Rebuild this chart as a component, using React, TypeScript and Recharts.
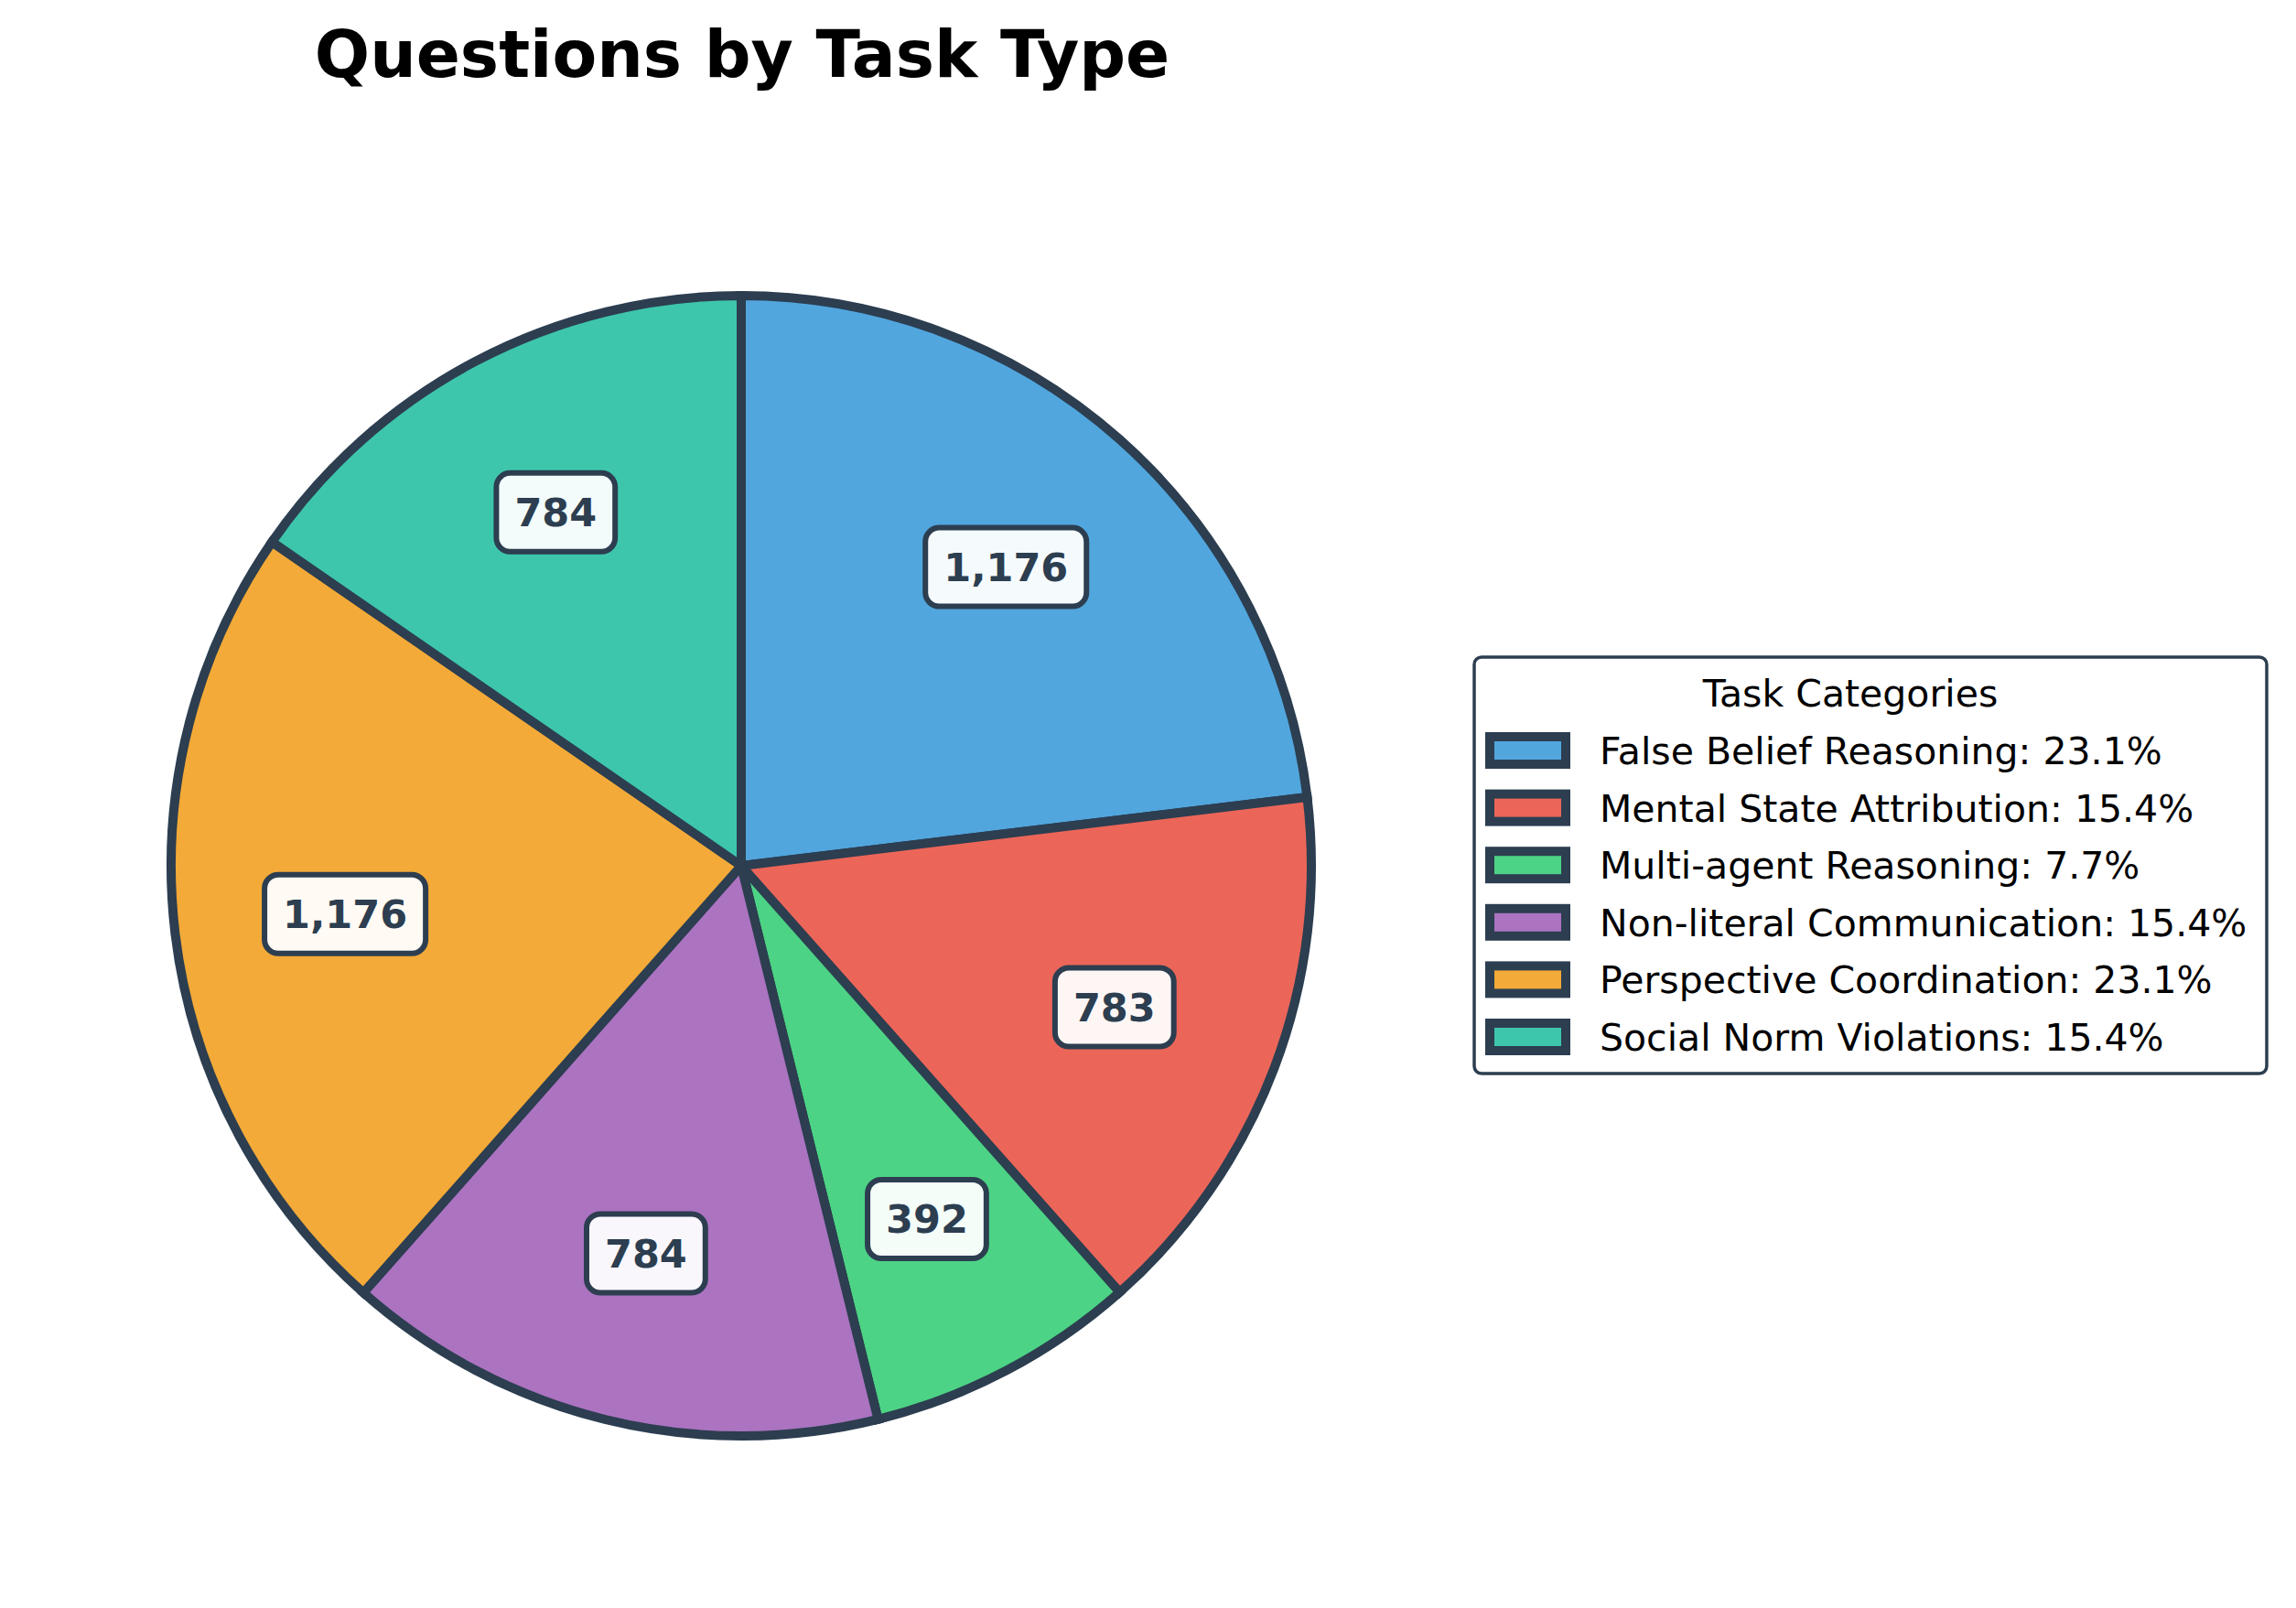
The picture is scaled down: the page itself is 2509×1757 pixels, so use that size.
import React from 'react';
import { PieChart, Pie, Cell, Legend } from 'recharts';

const categories = [
  'False Belief Reasoning',
  'Mental State Attribution',
  'Multi-agent Reasoning',
  'Non-literal Communication',
  'Perspective Coordination',
  'Social Norm Violations',
];
const counts = [1176, 783, 392, 784, 1176, 784];
const colors = ['#52a6de', '#eb6659', '#4dd385', '#ab73c0', '#f3aa38', '#3ec6ad'];

const total = counts.reduce((a, b) => a + b, 0);
const data = categories.map((name, i) => ({ name, value: counts[i] }));

const DARK = '#2c3e50';
const FONT = '"DejaVu Sans", sans-serif';
const RAD = Math.PI / 180;

const renderLabel = (props: any) => {
  const { cx, cy, midAngle, outerRadius, value } = props;
  const r = outerRadius * 0.7;
  const x = cx + r * Math.cos(-midAngle * RAD);
  const y = cy + r * Math.sin(-midAngle * RAD);
  const text = value.toLocaleString('en-US');
  const fs = 43;
  // rough advance width for DejaVu Sans Bold digits / comma
  const tw = text.split('').reduce((w: number, c: string) => w + (c === ',' ? 0.38 : 0.696) * fs, 0);
  const bw = tw + 40;
  const bh = 86;
  return (
    <g>
      <rect x={x - bw / 2} y={y - bh / 2} width={bw} height={bh} rx={15} fill="#ffffff" fillOpacity={0.94} stroke={DARK} strokeWidth={6} />
      <text x={x} y={y + fs * 0.36} textAnchor="middle" fontFamily={FONT} fontWeight="bold" fontSize={fs} fill={DARK}>
        {text}
      </text>
    </g>
  );
};

const LegendBox = () => {
  const rowTop = 125;
  const rowGap = 62.6;
  return (
    <svg width={885} height={470} style={{ display: 'block' }}>
      <rect x={11} y={8} width={866} height={455} rx={8} fill="#ffffff" stroke={DARK} strokeWidth={3.5} />
      <text x={422} y={62} textAnchor="middle" fontFamily={FONT} fontSize={41} fill="#000">
        Task Categories
      </text>
      {categories.map((name, i) => {
        const base = rowTop + i * rowGap;
        const pct = ((counts[i] / total) * 100).toFixed(1);
        return (
          <g key={name}>
            <rect x={28} y={base - 30} width={83} height={30} fill={colors[i]} stroke={DARK} strokeWidth={10} />
            <text x={148} y={base} fontFamily={FONT} fontSize={41} fill="#000">
              {`${name}: ${pct}%`}
            </text>
          </g>
        );
      })}
    </svg>
  );
};

export default function App() {
  return (
    <div style={{ position: 'absolute', left: 0, top: 0, width: 2509, height: 1757, background: '#fff' }}>
      <svg width={2509} height={130} style={{ position: 'absolute', left: 0, top: 0 }}>
        <text x={811} y={84} textAnchor="middle" fontFamily={FONT} fontWeight="bold" fontSize={71} fill="#000">
          Questions by Task Type
        </text>
      </svg>
      <PieChart width={2509} height={1757} margin={{ top: 0, right: 0, bottom: 0, left: 0 }}>
        <Pie
          data={data}
          dataKey="value"
          nameKey="name"
          cx={810}
          cy={946}
          outerRadius={623}
          startAngle={90}
          endAngle={-270}
          stroke={DARK}
          strokeWidth={10}
          label={renderLabel}
          labelLine={false}
          isAnimationActive={false}
        >
          {data.map((entry, i) => (
            <Cell key={entry.name} fill={colors[i]} />
          ))}
        </Pie>
        <Legend
          content={() => <LegendBox />}
          wrapperStyle={{ position: 'absolute', left: 1600, top: 710, width: 885, height: 470 }}
        />
      </PieChart>
    </div>
  );
}
